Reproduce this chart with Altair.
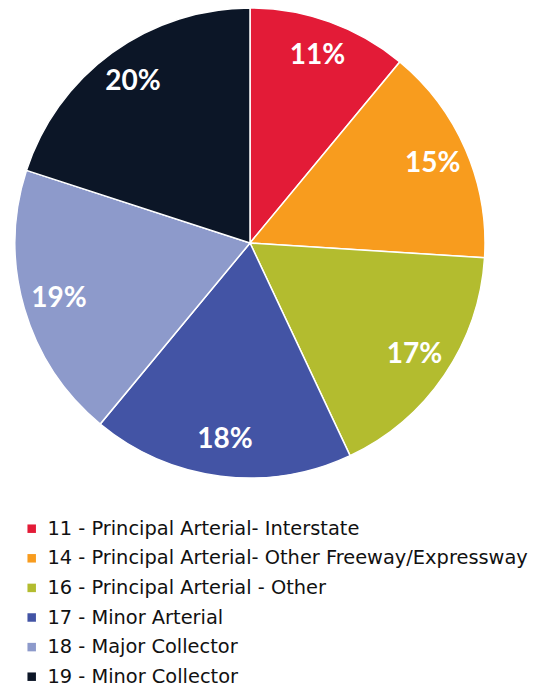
import altair as alt
import pandas as pd

categories = [
    "11 - Principal Arterial- Interstate",
    "14 - Principal Arterial- Other Freeway/Expressway",
    "16 - Principal Arterial - Other",
    "17 - Minor Arterial",
    "18 - Major Collector",
    "19 - Minor Collector",
]
shares = [11, 15, 17, 18, 19, 20]
colors = ["#E31B37", "#F89C1E", "#B3BC2F", "#4354A5", "#8D9ACB", "#0C1627"]

df = pd.DataFrame({
    "cat": categories,
    "value": shares,
    "order": list(range(len(categories))),
    "label": [f"{v}%" for v in shares],
})

cx, cy, R = 242, 235, 235

base = alt.Chart(df).encode(
    theta=alt.Theta("value:Q", stack=True),
    order=alt.Order("order:Q"),
    x=alt.value(cx),
    y=alt.value(cy),
)

arcs = base.mark_arc(radius=R, stroke="white", strokeWidth=1.5).encode(
    color=alt.Color(
        "cat:N",
        sort=categories,
        scale=alt.Scale(domain=categories, range=colors),
        legend=alt.Legend(
            title=None,
            orient="none",
            legendX=14,
            legendY=511,
            symbolType="square",
            symbolSize=72,
            symbolStrokeWidth=0,
            labelFont="DejaVu Sans",
            labelFontSize=19.4,
            labelColor="#111111",
            labelOffset=6,
            rowPadding=8.6,
            labelLimit=600,
            padding=0,
        ),
    )
)

texts = base.mark_text(
    radius=199, font="Lato", fontWeight="bold", fontSize=28, color="white"
).encode(text="label:N")

chart = (arcs + texts).properties(
    width=521, height=679, padding=0,
    autosize=alt.AutoSizeParams(type="none"),
).configure_view(stroke=None)

chart.save("out.html", embed_options={"renderer": "svg", "actions": False})
